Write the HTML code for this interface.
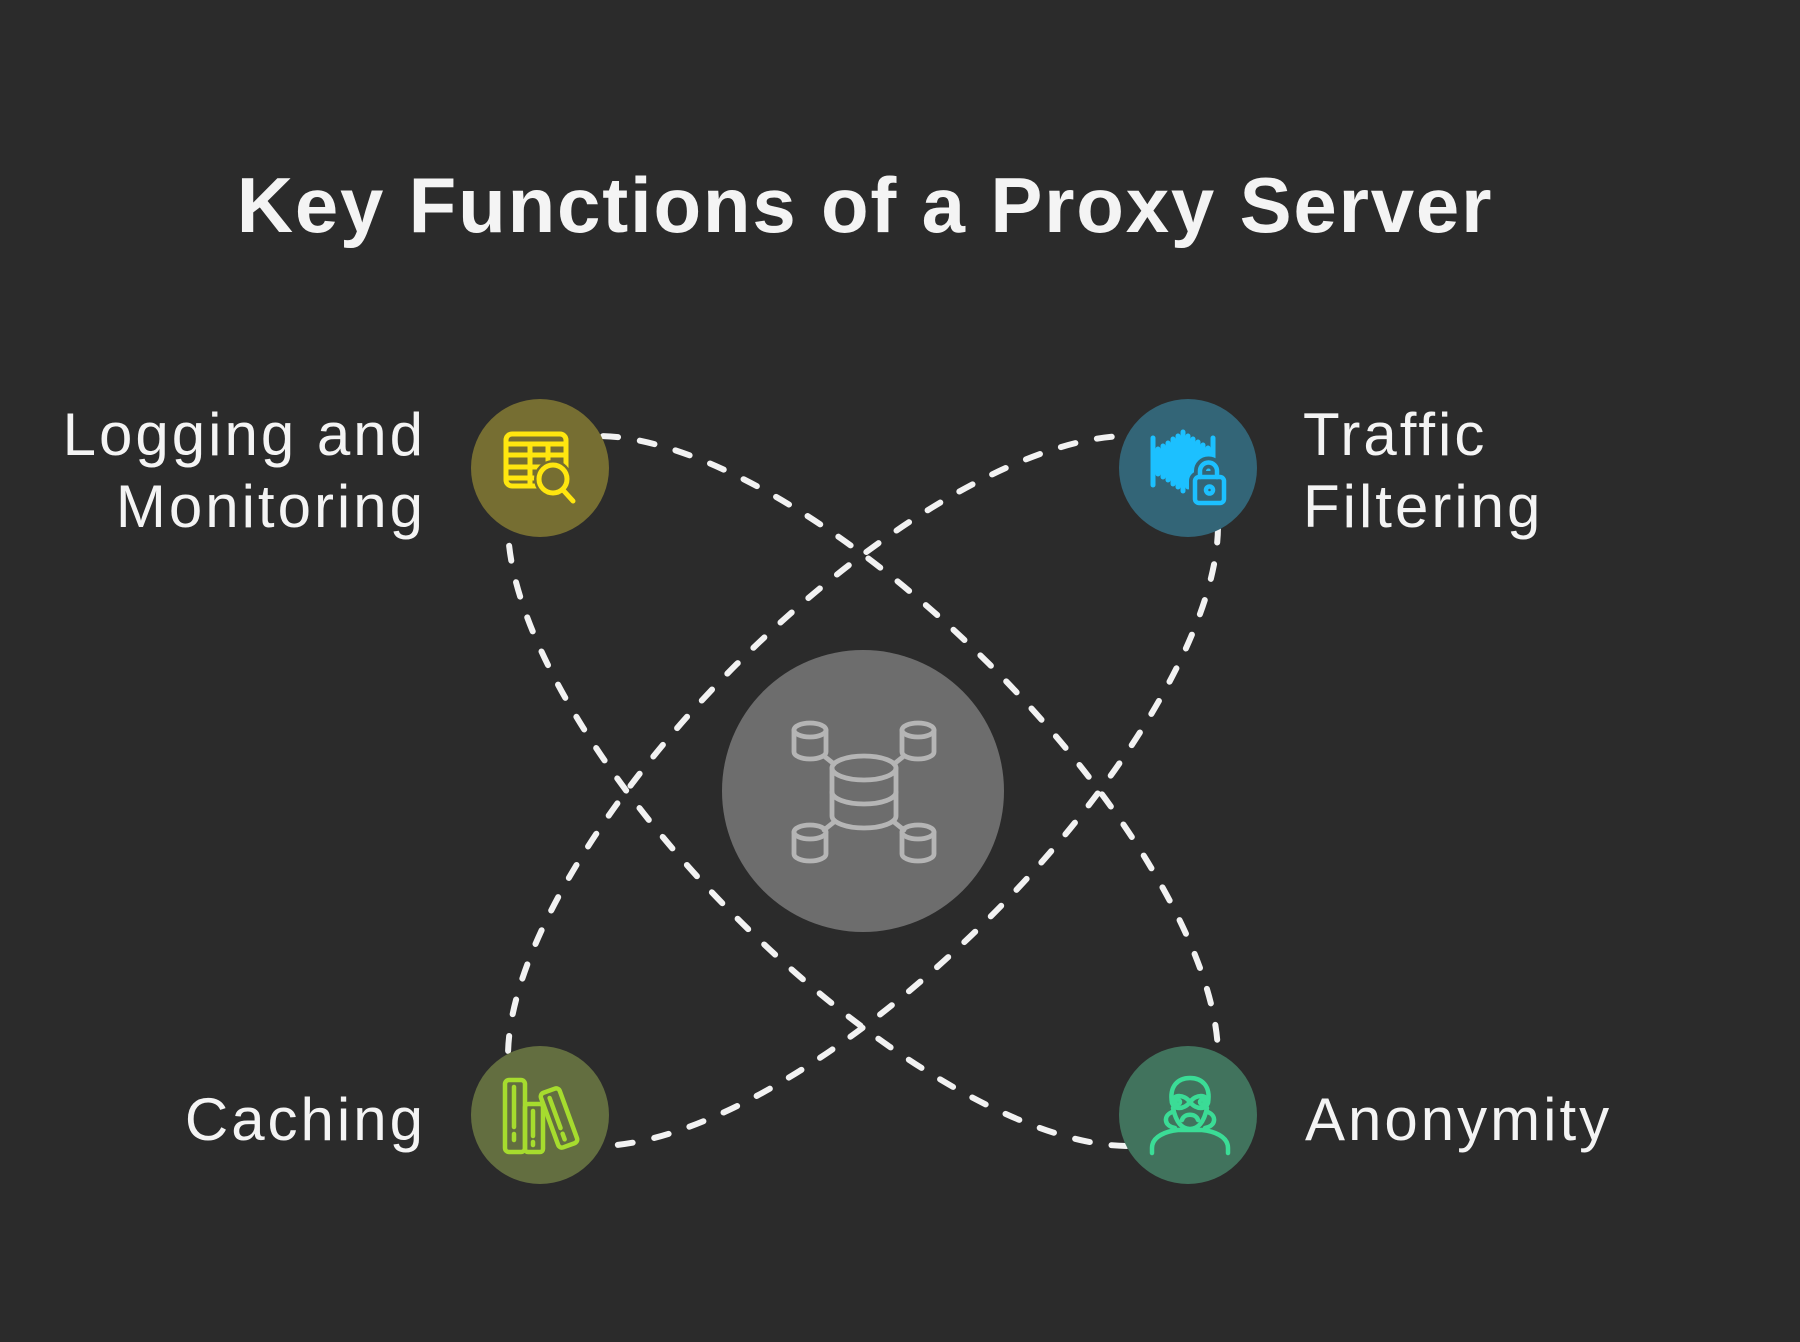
<!DOCTYPE html>
<html>
<head>
<meta charset="utf-8">
<style>
  html,body{margin:0;padding:0;background:#2b2b2b;}
  body{width:1800px;height:1342px;overflow:hidden;}
  svg{display:block;}
  .lbl{font-family:"Liberation Sans",sans-serif;font-size:60px;fill:#f4f4f4;letter-spacing:3px;}
  .ttl{font-family:"Liberation Sans",sans-serif;font-weight:bold;font-size:78px;fill:#f4f4f4;letter-spacing:1.8px;}
</style>
</head>
<body>
<svg width="1800" height="1342" viewBox="0 0 1800 1342" xmlns="http://www.w3.org/2000/svg">
  <rect x="0" y="0" width="1800" height="1342" fill="#2b2b2b"/>

  <!-- title -->
  <text class="ttl" x="865" y="232" text-anchor="middle">Key Functions of a Proxy Server</text>

  <!-- dashed orbits -->
  <g fill="none" stroke="#f2f2f2" stroke-width="6" stroke-linecap="round" stroke-dasharray="15 22">
    <ellipse cx="863" cy="791" rx="469" ry="179" transform="rotate(45 863 791)"/>
    <ellipse cx="863" cy="791" rx="469" ry="179" transform="rotate(-45 863 791)"/>
  </g>

  <!-- center node -->
  <circle cx="863" cy="791" r="141" fill="#6d6d6d"/>
  <g fill="none" stroke="#b5b5b5" stroke-width="4.8" stroke-linecap="round" stroke-linejoin="round">
    <ellipse cx="864" cy="768" rx="32" ry="12"/>
    <path d="M832,768 V816 A32,12 0 0 0 896,816 V768"/>
    <path d="M832,792 A32,12 0 0 0 896,792"/>
    <ellipse cx="810" cy="730" rx="16" ry="7"/>
    <path d="M794,730 V752 A16,7 0 0 0 826,752 V730"/>
    <ellipse cx="918" cy="730" rx="16" ry="7"/>
    <path d="M902,730 V752 A16,7 0 0 0 934,752 V730"/>
    <ellipse cx="810" cy="832" rx="16" ry="7"/>
    <path d="M794,832 V854 A16,7 0 0 0 826,854 V832"/>
    <ellipse cx="918" cy="832" rx="16" ry="7"/>
    <path d="M902,832 V854 A16,7 0 0 0 934,854 V832"/>
    <path d="M824,756 L834,764"/>
    <path d="M904,756 L894,764"/>
    <path d="M824,830 L834,822"/>
    <path d="M904,830 L894,822"/>
  </g>

  <!-- Logging and Monitoring node -->
  <circle cx="540" cy="468" r="69" fill="#766e32"/>
  <g fill="none" stroke="#ffe60f" stroke-width="5" stroke-linecap="round" stroke-linejoin="round">
    <rect x="506" y="434" width="60" height="52" rx="6"/>
    <path d="M506,444 H566"/>
    <path d="M506,455 H566"/>
    <path d="M506,467 H540"/>
    <path d="M506,478 H536"/>
    <path d="M530,444 V486"/>
    <path d="M548,444 V462"/>
  </g>
  <circle cx="553" cy="479" r="19" fill="#766e32"/>
  <g fill="none" stroke="#ffe60f" stroke-width="5" stroke-linecap="round">
    <circle cx="553" cy="479" r="14"/>
    <path d="M563,490 L573,501"/>
  </g>

  <!-- Traffic Filtering node -->
  <circle cx="1188" cy="468" r="69" fill="#336577"/>
  <g stroke="#1cc0ff" stroke-width="5" stroke-linecap="round" fill="none">
    <path d="M1153,438 V485"/>
    <path d="M1213,438 V462"/>
    <path d="M1158,449 V474"/>
    <path d="M1163,446 V477"/>
    <path d="M1168,443 V480"/>
    <path d="M1173,439 V484"/>
    <path d="M1178,436 V487"/>
    <path d="M1183,432 V491"/>
    <path d="M1188,436 V487"/>
    <path d="M1193,439 V484"/>
    <path d="M1198,442 V481"/>
    <path d="M1203,445 V478"/>
    <path d="M1208,448 V475"/>
  </g>
  <g fill="#336577" stroke="#336577" stroke-width="12" stroke-linejoin="round">
    <rect x="1195" y="477" width="29" height="26" rx="4"/>
    <path d="M1200,477 V471 A8.5,8.5 0 0 1 1217,471 V477" fill="none"/>
  </g>
  <g fill="none" stroke="#1cc0ff" stroke-width="4.5" stroke-linecap="round" stroke-linejoin="round">
    <rect x="1195" y="477" width="29" height="26" rx="4"/>
    <path d="M1200,477 V471 A8.5,8.5 0 0 1 1217,471 V477"/>
    <circle cx="1209.5" cy="490" r="3.5"/>
  </g>

  <!-- Caching node -->
  <circle cx="540" cy="1115" r="69" fill="#636e40"/>
  <g fill="none" stroke="#a6dc2e" stroke-width="4.5" stroke-linecap="round" stroke-linejoin="round">
    <rect x="505" y="1080" width="20" height="72" rx="4"/>
    <path d="M514,1087 V1127 M514,1134 V1140"/>
    <rect x="525" y="1104" width="18" height="48" rx="3"/>
    <path d="M533,1111 V1136 M533,1142 V1145"/>
    <g transform="rotate(-20 559 1118)">
      <rect x="549" y="1089" width="20" height="58" rx="4"/>
      <path d="M557,1096 V1128 M557,1134 V1140"/>
    </g>
  </g>

  <!-- Anonymity node -->
  <circle cx="1188" cy="1115" r="69" fill="#41735d"/>
  <g fill="none" stroke="#3bdc96" stroke-width="4.5" stroke-linecap="round" stroke-linejoin="round">
    <path d="M1172,1103 C1169,1086 1178,1078 1190,1078 C1202,1078 1211,1086 1208,1103"/>
    <path d="M1173,1108 C1176,1122 1182,1129 1190,1129 C1198,1129 1204,1122 1207,1108"/>
    <path d="M1190,1102 C1184,1094 1173,1094 1172,1102 C1173,1110 1184,1110 1190,1102 C1196,1094 1207,1094 1208,1102 C1207,1110 1196,1110 1190,1102 Z"/>
    <circle cx="1178" cy="1102" r="2"/>
    <circle cx="1202" cy="1102" r="2"/>
    <path d="M1182,1120 C1184,1113 1196,1113 1198,1120"/>
    <path d="M1172,1112 C1163,1116 1164,1126 1175,1128"/>
    <path d="M1208,1112 C1217,1116 1216,1126 1205,1128"/>
    <path d="M1152,1153 V1148 C1152,1136 1167,1131 1178,1130 H1202 C1213,1131 1228,1136 1228,1148 V1153"/>
  </g>

  <!-- labels -->
  <text class="lbl" x="426" y="455" text-anchor="end">Logging and</text>
  <text class="lbl" x="426" y="527" text-anchor="end">Monitoring</text>
  <text class="lbl" x="1303" y="455">Traffic</text>
  <text class="lbl" x="1303" y="527">Filtering</text>
  <text class="lbl" x="426" y="1140" text-anchor="end">Caching</text>
  <text class="lbl" x="1305" y="1140">Anonymity</text>
</svg>
</body>
</html>
